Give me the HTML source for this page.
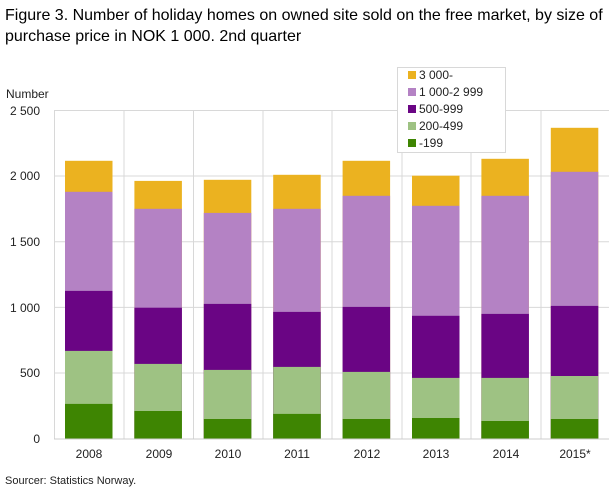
<!DOCTYPE html>
<html><head><meta charset="utf-8"><style>
body{margin:0;background:#fff;}
svg{display:block;font-family:"Liberation Sans",sans-serif;}
</style></head><body>
<svg width="610" height="489" viewBox="0 0 610 489">
<text x="5" y="20" font-size="16" fill="#000">Figure 3. Number of holiday homes on owned site sold on the free market, by size of</text>
<text x="5" y="41" font-size="16" fill="#000">purchase price in NOK 1 000. 2nd quarter</text>
<text x="6" y="98" font-size="12" fill="#222">Number</text>
<g stroke="#d8d8d8" stroke-width="1">
<line x1="54" y1="110.5" x2="609" y2="110.5"/>
<line x1="54" y1="176" x2="609" y2="176"/>
<line x1="54" y1="241.7" x2="609" y2="241.7"/>
<line x1="54" y1="307.4" x2="609" y2="307.4"/>
<line x1="54" y1="373" x2="609" y2="373"/>
<line x1="54.5" y1="110" x2="54.5" y2="439"/>
<line x1="124" y1="110" x2="124" y2="439"/>
<line x1="193.5" y1="110" x2="193.5" y2="439"/>
<line x1="263" y1="110" x2="263" y2="439"/>
<line x1="332" y1="110" x2="332" y2="439"/>
<line x1="402" y1="110" x2="402" y2="439"/>
<line x1="471" y1="110" x2="471" y2="439"/>
<line x1="541" y1="110" x2="541" y2="439"/>
</g>
<g font-size="12" fill="#222" text-anchor="end">
<text x="40" y="115">2 500</text><text x="40" y="180">2 000</text><text x="40" y="246">1 500</text>
<text x="40" y="312">1 000</text><text x="40" y="377">500</text><text x="40" y="443">0</text>
</g>
<g fill="#ebb220">
<rect x="65" y="160.8" width="47.5" height="278.2"/>
<rect x="134.4" y="180.9" width="47.5" height="258.1"/>
<rect x="203.8" y="179.8" width="47.5" height="259.2"/>
<rect x="273.2" y="174.8" width="47.5" height="264.2"/>
<rect x="342.6" y="160.8" width="47.5" height="278.2"/>
<rect x="412" y="175.7" width="47.5" height="263.3"/>
<rect x="481.4" y="158.8" width="47.5" height="280.2"/>
<rect x="550.8" y="127.8" width="47.5" height="311.2"/>
</g>
<g fill="#b482c4">
<rect x="65" y="191.8" width="47.5" height="247.2"/>
<rect x="134.4" y="208.8" width="47.5" height="230.2"/>
<rect x="203.8" y="212.9" width="47.5" height="226.1"/>
<rect x="273.2" y="208.8" width="47.5" height="230.2"/>
<rect x="342.6" y="195.8" width="47.5" height="243.2"/>
<rect x="412" y="205.8" width="47.5" height="233.2"/>
<rect x="481.4" y="195.8" width="47.5" height="243.2"/>
<rect x="550.8" y="171.8" width="47.5" height="267.2"/>
</g>
<g fill="#6a0584">
<rect x="65" y="290.9" width="47.5" height="148.1"/>
<rect x="134.4" y="307.7" width="47.5" height="131.3"/>
<rect x="203.8" y="303.9" width="47.5" height="135.1"/>
<rect x="273.2" y="311.9" width="47.5" height="127.1"/>
<rect x="342.6" y="306.9" width="47.5" height="132.1"/>
<rect x="412" y="315.8" width="47.5" height="123.2"/>
<rect x="481.4" y="313.9" width="47.5" height="125.1"/>
<rect x="550.8" y="305.9" width="47.5" height="133.1"/>
</g>
<g fill="#9ec283">
<rect x="65" y="350.9" width="47.5" height="88.1"/>
<rect x="134.4" y="363.9" width="47.5" height="75.1"/>
<rect x="203.8" y="369.9" width="47.5" height="69.1"/>
<rect x="273.2" y="366.9" width="47.5" height="72.1"/>
<rect x="342.6" y="371.9" width="47.5" height="67.1"/>
<rect x="412" y="377.9" width="47.5" height="61.1"/>
<rect x="481.4" y="377.9" width="47.5" height="61.1"/>
<rect x="550.8" y="376" width="47.5" height="63"/>
</g>
<g fill="#3e8502">
<rect x="65" y="403.9" width="47.5" height="35.1"/>
<rect x="134.4" y="411" width="47.5" height="28"/>
<rect x="203.8" y="419" width="47.5" height="20"/>
<rect x="273.2" y="413.9" width="47.5" height="25.1"/>
<rect x="342.6" y="419" width="47.5" height="20"/>
<rect x="412" y="418" width="47.5" height="21"/>
<rect x="481.4" y="421" width="47.5" height="18"/>
<rect x="550.8" y="419" width="47.5" height="20"/>
</g>
<line x1="54" y1="439" x2="609" y2="439" stroke="#ccc"/>
<g font-size="12" fill="#222" text-anchor="middle">
<text x="89" y="458">2008</text><text x="159" y="458">2009</text><text x="228" y="458">2010</text><text x="297" y="458">2011</text>
<text x="367" y="458">2012</text><text x="436" y="458">2013</text><text x="506" y="458">2014</text><text x="575" y="458">2015*</text>
</g>
<rect x="397.5" y="67.5" width="108" height="85" fill="#fff" stroke="#d8d8d8"/>
<g font-size="12" fill="#222">
<rect x="408" y="71" width="8" height="8" fill="#ebb220"/><text x="419" y="79">3 000-</text>
<rect x="408" y="88" width="8" height="8" fill="#b482c4"/><text x="419" y="96">1 000-2 999</text>
<rect x="408" y="105" width="8" height="8" fill="#6a0584"/><text x="419" y="113">500-999</text>
<rect x="408" y="122" width="8" height="8" fill="#9ec283"/><text x="419" y="130">200-499</text>
<rect x="408" y="139" width="8" height="8" fill="#3e8502"/><text x="419" y="147">-199</text>
</g>
<text x="5" y="484" font-size="11" fill="#222">Sourcer: Statistics Norway.</text>
</svg>
</body></html>
